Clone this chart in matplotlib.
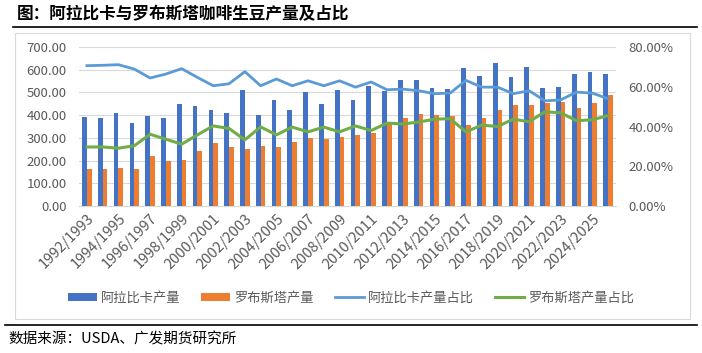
import numpy as np
import matplotlib
matplotlib.use("Agg")
import matplotlib.pyplot as plt
from matplotlib.lines import Line2D
from matplotlib.patches import Rectangle

plt.rcParams['font.family'] = ['Noto Sans CJK SC', 'DejaVu Sans']

# Crop years 1992/1993 .. 2025/2026
years = [f"{y}/{y + 1}" for y in range(1992, 2026)]

# Production (left axis)
arabica = [393, 387, 410, 366, 397, 388, 450, 441, 424, 410,
           512, 401, 468, 424, 503, 450, 512, 468, 529, 507,
           556, 556, 521, 516, 609, 574, 631, 569, 613, 521,
           525, 582, 591, 580]
robusta = [163, 163, 168, 163, 221, 199, 203, 243, 278, 260,
           251, 265, 260, 282, 300, 296, 304, 313, 322, 365,
           388, 406, 401, 397, 357, 388, 424, 446, 446, 454,
           459, 432, 454, 487]

# Shares (right axis, %)
arabica_share = [70.6, 70.8, 71.1, 68.9, 64.4, 66.4, 69.1, 64.7, 60.5, 61.5,
                 67.6, 60.5, 63.9, 60.5, 63.0, 60.5, 63.0, 59.8, 62.4, 58.5,
                 58.8, 58.0, 56.5, 56.8, 63.2, 59.8, 59.8, 56.5, 58.0, 52.9,
                 53.4, 57.3, 56.8, 54.0]
robusta_share = [29.7, 29.7, 29.1, 30.3, 36.1, 33.6, 31.1, 35.8, 40.3, 39.0,
                 33.3, 39.8, 35.8, 39.7, 37.3, 39.7, 37.3, 40.3, 38.0, 41.7,
                 41.3, 42.2, 43.7, 43.9, 37.3, 40.7, 40.0, 43.7, 42.4, 47.4,
                 46.9, 42.9, 43.4, 45.5]

W, H = 702, 353
fig = plt.figure(figsize=(W / 100, H / 100), dpi=100)

# Frame and rules
fig.patches.append(Rectangle((15 / W, 1 - 319 / H), 675 / W, 286 / H,
                             transform=fig.transFigure, fill=False,
                             edgecolor='#D9D9D9', linewidth=0.8))
fig.lines.append(Line2D([13 / W, 697 / W], [1 - 27 / H] * 2,
                        transform=fig.transFigure, color='black', lw=1.2))
fig.lines.append(Line2D([5 / W, 697 / W], [1 - 325 / H] * 2,
                        transform=fig.transFigure, color='black', lw=1.2))

fig.text(17 / W, 1 - 14 / H, "图：阿拉比卡与罗布斯塔咖啡生豆产量及占比",
         fontsize=12, fontweight='bold', va='center', ha='left')
fig.text(8 / W, 1 - 339 / H, "数据来源：USDA、广发期货研究所",
         fontsize=10.5, va='center', ha='left')

ax = fig.add_axes([79 / W, 1 - 206 / H, 537 / W, 159 / H])
ax2 = ax.twinx()

x = np.arange(len(years))
gray = '#595959'

b1 = ax.bar(x - 0.15, arabica, width=0.3, color='#4472C4', label='阿拉比卡产量', zorder=3)
b2 = ax.bar(x + 0.15, robusta, width=0.3, color='#ED7D31', label='罗布斯塔产量', zorder=3)
l1, = ax2.plot(x, arabica_share, color='#5B9BD5', lw=2.0, label='阿拉比卡产量占比')
l2, = ax2.plot(x, robusta_share, color='#70AD47', lw=2.2, label='罗布斯塔产量占比')

ax.set_xlim(-0.5, len(years) - 0.5)
ax.set_ylim(0, 700)
ax.set_yticks(np.arange(0, 701, 100))
ax.set_yticklabels([f"{v:.2f}" for v in range(0, 701, 100)])
ax2.set_ylim(0, 80)
ax2.set_yticks(np.arange(0, 81, 20))
ax2.set_yticklabels([f"{v:.2f}%" for v in range(0, 81, 20)])

ax.set_xticks(x[::2])
ax.set_xticklabels(years[::2], rotation=45, ha='right', rotation_mode='anchor')

ax.grid(axis='y', color='#D9D9D9', lw=0.8, zorder=0)
ax.set_axisbelow(True)
for a in (ax, ax2):
    for s in a.spines.values():
        s.set_visible(False)
    a.tick_params(length=0, colors=gray, labelsize=9.5)
ax.spines['bottom'].set_visible(True)
ax.spines['bottom'].set_color('#D9D9D9')
ax.tick_params(axis='y', pad=9)
ax2.tick_params(axis='y', pad=9)
ax.tick_params(axis='x', pad=4, labelsize=10.5)

fig.legend(handles=[b1, b2, l1, l2], loc='center', ncol=4,
           bbox_to_anchor=(0.5, 1 - 298 / H), frameon=False,
           fontsize=9.5, handlelength=2.2, handleheight=0.55,
           columnspacing=1.6, handletextpad=0.3, labelcolor=gray)

fig.savefig("out.png", dpi=100)
